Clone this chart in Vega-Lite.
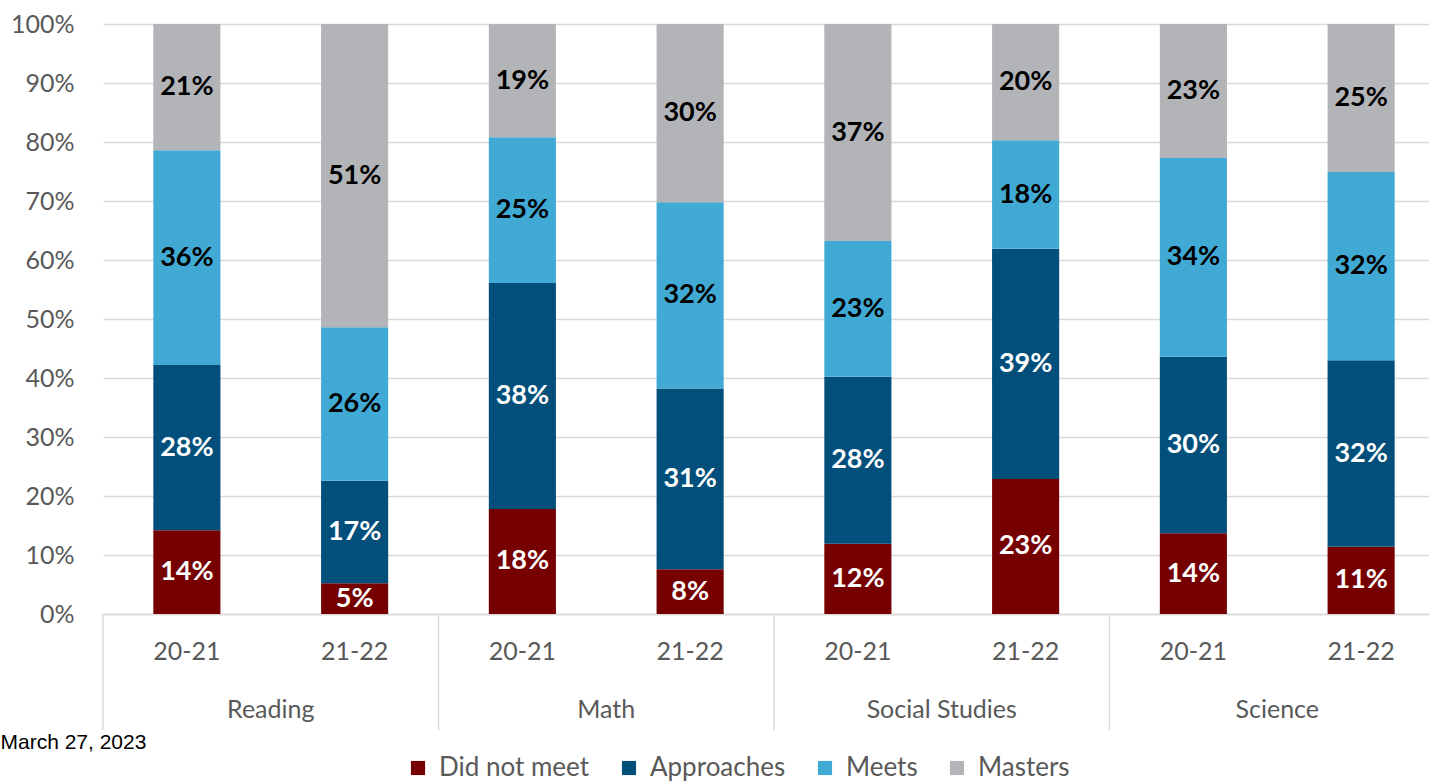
{
  "$schema": "https://vega.github.io/schema/vega-lite/v6.json",
  "width": 1342,
  "height": 590,
  "padding": {"left": 0, "top": 12, "right": 0, "bottom": 0},
  "background": "white",
  "config": {"view": {"stroke": null}, "font": "Lato"},
  "title": {"text": "March 27, 2023", "orient": "bottom", "anchor": "start", "frame": "bounds", "font": "Liberation Sans", "fontSize": 21, "fontWeight": "normal", "color": "#000000", "dx": -10, "dy": -53},
  "datasets": {
    "scores": [
      {"subject": "Reading", "bar": "Reading|20-21", "level": "Did not meet", "rank": 1, "value": 0.142},
      {"subject": "Reading", "bar": "Reading|20-21", "level": "Approaches", "rank": 2, "value": 0.280},
      {"subject": "Reading", "bar": "Reading|20-21", "level": "Meets", "rank": 3, "value": 0.364},
      {"subject": "Reading", "bar": "Reading|20-21", "level": "Masters", "rank": 4, "value": 0.214},
      {"subject": "Reading", "bar": "Reading|21-22", "level": "Did not meet", "rank": 1, "value": 0.052},
      {"subject": "Reading", "bar": "Reading|21-22", "level": "Approaches", "rank": 2, "value": 0.174},
      {"subject": "Reading", "bar": "Reading|21-22", "level": "Meets", "rank": 3, "value": 0.260},
      {"subject": "Reading", "bar": "Reading|21-22", "level": "Masters", "rank": 4, "value": 0.514},
      {"subject": "Math", "bar": "Math|20-21", "level": "Did not meet", "rank": 1, "value": 0.178},
      {"subject": "Math", "bar": "Math|20-21", "level": "Approaches", "rank": 2, "value": 0.383},
      {"subject": "Math", "bar": "Math|20-21", "level": "Meets", "rank": 3, "value": 0.247},
      {"subject": "Math", "bar": "Math|20-21", "level": "Masters", "rank": 4, "value": 0.192},
      {"subject": "Math", "bar": "Math|21-22", "level": "Did not meet", "rank": 1, "value": 0.076},
      {"subject": "Math", "bar": "Math|21-22", "level": "Approaches", "rank": 2, "value": 0.306},
      {"subject": "Math", "bar": "Math|21-22", "level": "Meets", "rank": 3, "value": 0.316},
      {"subject": "Math", "bar": "Math|21-22", "level": "Masters", "rank": 4, "value": 0.302},
      {"subject": "Social Studies", "bar": "Social Studies|20-21", "level": "Did not meet", "rank": 1, "value": 0.119},
      {"subject": "Social Studies", "bar": "Social Studies|20-21", "level": "Approaches", "rank": 2, "value": 0.283},
      {"subject": "Social Studies", "bar": "Social Studies|20-21", "level": "Meets", "rank": 3, "value": 0.230},
      {"subject": "Social Studies", "bar": "Social Studies|20-21", "level": "Masters", "rank": 4, "value": 0.368},
      {"subject": "Social Studies", "bar": "Social Studies|21-22", "level": "Did not meet", "rank": 1, "value": 0.229},
      {"subject": "Social Studies", "bar": "Social Studies|21-22", "level": "Approaches", "rank": 2, "value": 0.390},
      {"subject": "Social Studies", "bar": "Social Studies|21-22", "level": "Meets", "rank": 3, "value": 0.184},
      {"subject": "Social Studies", "bar": "Social Studies|21-22", "level": "Masters", "rank": 4, "value": 0.197},
      {"subject": "Science", "bar": "Science|20-21", "level": "Did not meet", "rank": 1, "value": 0.137},
      {"subject": "Science", "bar": "Science|20-21", "level": "Approaches", "rank": 2, "value": 0.299},
      {"subject": "Science", "bar": "Science|20-21", "level": "Meets", "rank": 3, "value": 0.337},
      {"subject": "Science", "bar": "Science|20-21", "level": "Masters", "rank": 4, "value": 0.227},
      {"subject": "Science", "bar": "Science|21-22", "level": "Did not meet", "rank": 1, "value": 0.114},
      {"subject": "Science", "bar": "Science|21-22", "level": "Approaches", "rank": 2, "value": 0.316},
      {"subject": "Science", "bar": "Science|21-22", "level": "Meets", "rank": 3, "value": 0.319},
      {"subject": "Science", "bar": "Science|21-22", "level": "Masters", "rank": 4, "value": 0.251}
    ],
    "groups": [
      {"subject": "Reading", "bar": "Reading|20-21", "mid": "Reading|21-22"},
      {"subject": "Math", "bar": "Math|20-21", "mid": "Math|21-22"},
      {"subject": "Social Studies", "bar": "Social Studies|20-21", "mid": "Social Studies|21-22"},
      {"subject": "Science", "bar": "Science|20-21", "mid": "Science|21-22"}
    ]
  },
  "layer": [
    {
      "data": {"name": "scores"},
      "mark": {"type": "bar"},
      "encoding": {
        "x": {
          "field": "bar", "type": "nominal",
          "scale": {"domain": ["Reading|20-21", "Reading|21-22", "Math|20-21", "Math|21-22", "Social Studies|20-21", "Social Studies|21-22", "Science|20-21", "Science|21-22"], "paddingInner": 0.6, "paddingOuter": 0.3},
          "axis": {"title": null, "labelExpr": "split(datum.label, '|')[1]", "labelAngle": 0, "labelFont": "Lato", "labelFontSize": 25, "labelColor": "#595959", "labelPadding": 25, "ticks": false, "domainColor": "#d9d9d9", "domainWidth": 1.5, "grid": false}
        },
        "y": {
          "field": "value", "type": "quantitative", "stack": "zero",
          "scale": {"domain": [0, 1], "nice": false},
          "axis": {"title": null, "format": ".0%", "values": [0, 0.1, 0.2, 0.3, 0.4, 0.5, 0.6, 0.7, 0.8, 0.9, 1], "labelFont": "Lato", "labelFontSize": 25, "labelColor": "#595959", "labelPadding": 29, "ticks": false, "domain": false, "gridColor": "#d9d9d9", "gridWidth": 1.5}
        },
        "color": {
          "field": "level", "type": "nominal",
          "scale": {"domain": ["Did not meet", "Approaches", "Meets", "Masters"], "range": ["#760000", "#024F7B", "#40AAD4", "#B3B4B8"]},
          "legend": {"title": null, "orient": "none", "legendX": 302, "legendY": 731, "direction": "horizontal", "symbolType": "square", "symbolSize": 200, "symbolStrokeWidth": 0, "labelFont": "Lato", "labelFontSize": 26, "labelColor": "#595959", "labelLimit": 300, "columnPadding": 26, "labelOffset": 8}
        },
        "order": {"field": "rank", "type": "quantitative"}
      }
    },
    {
      "data": {"name": "scores"},
      "mark": {"type": "text", "font": "Lato", "fontWeight": "bold", "fontSize": 27, "baseline": "middle"},
      "encoding": {
        "x": {"field": "bar", "type": "nominal"},
        "y": {"field": "value", "type": "quantitative", "stack": "zero", "bandPosition": 0.5},
        "detail": {"field": "level"},
        "order": {"field": "rank", "type": "quantitative"},
        "text": {"field": "value", "type": "quantitative", "format": ".0%"},
        "color": {"condition": {"test": "datum.rank <= 2", "value": "#ffffff"}, "value": "#000000"}
      }
    },
    {
      "data": {"name": "groups"},
      "mark": {"type": "rule", "color": "#d9d9d9", "strokeWidth": 1.5},
      "encoding": {
        "x": {"field": "bar", "type": "nominal", "bandPosition": -0.75},
        "y": {"datum": 0},
        "y2": {"datum": -0.197}
      }
    },
    {
      "data": {"name": "groups"},
      "mark": {"type": "text", "font": "Lato", "fontSize": 25, "color": "#595959", "baseline": "middle"},
      "encoding": {
        "x": {"field": "mid", "type": "nominal", "bandPosition": -0.75},
        "y": {"datum": -0.162},
        "text": {"field": "subject"}
      }
    }
  ]
}
